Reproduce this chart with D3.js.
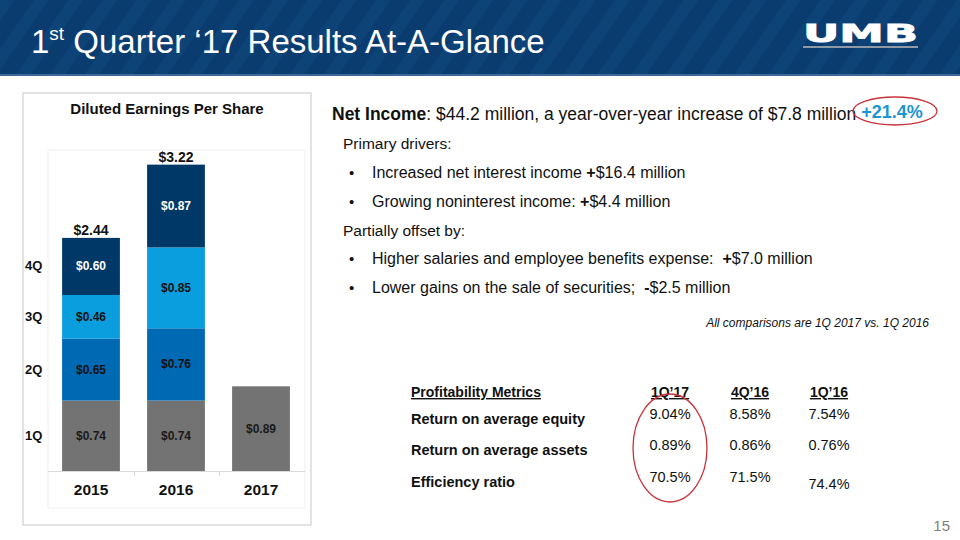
<!DOCTYPE html>
<html><head><meta charset="utf-8">
<script src="https://cdn.jsdelivr.net/npm/d3@7"></script>
<style>body{margin:0;background:#fff}svg{display:block;font-family:Arial,"Liberation Sans",sans-serif}</style>
</head><body>
<svg id="c" width="960" height="540"></svg>
<script>
const years = ["2015","2016","2017"];
const quarters = ["1Q","2Q","3Q","4Q"];
const q1 = [0.74, 0.74, 0.89];
const q2 = [0.65, 0.76, null];
const q3 = [0.46, 0.85, null];
const q4 = [0.60, 0.87, null];
const totals = ["$2.44","$3.22",null];
const qColors = ["#737373","#0069b4","#0a9ede","#003867"];
const qLabelColors = ["#1a1a1a","#111","#111","#fff"];
const drivers = [
  {type:"head", text:"Primary drivers:"},
  {type:"bullet", parts:[["Increased net interest income ",false],["+",true],["$16.4 million",false]]},
  {type:"bullet", parts:[["Growing noninterest income: ",false],["+",true],["$4.4 million",false]]},
  {type:"head", text:"Partially offset by:"},
  {type:"bullet", parts:[["Higher salaries and employee benefits expense:\u00a0\u00a0",false],["+",true],["$7.0 million",false]]},
  {type:"bullet", parts:[["Lower gains on the sale of securities;\u00a0\u00a0",false],["-",true],["$2.5 million",false]]}
];
const metricCols = ["1Q\u201917","4Q\u201916","1Q\u201916"];
const metricRows = ["Return on average equity","Return on average assets","Efficiency ratio"];
const metricVals = [["9.04%","8.58%","7.54%"],["0.89%","0.86%","0.76%"],["70.5%","71.5%","74.4%"]];

const svg = d3.select("#c");
const defs = svg.append("defs");
const pat = defs.append("pattern").attr("id","stripes").attr("patternUnits","userSpaceOnUse")
  .attr("width",28).attr("height",28).attr("patternTransform","rotate(35)");
pat.append("rect").attr("width",28).attr("height",28).attr("fill","#0b3c6f");
pat.append("rect").attr("width",12).attr("height",28).attr("fill","#0e4378");

// header
svg.append("rect").attr("x",0).attr("y",0).attr("width",960).attr("height",75).attr("fill","url(#stripes)");
svg.append("rect").attr("x",0).attr("y",74).attr("width",960).attr("height",2).attr("fill","#3d6a95");
const title = svg.append("text").attr("x",31).attr("y",53).attr("fill","#fff").attr("font-size",33);
title.append("tspan").text("1");
title.append("tspan").attr("font-size",19).attr("dy",-13).text("st");
title.append("tspan").attr("dy",13).text(" Quarter \u201817 Results At-A-Glance");
svg.append("text").attr("x",803).attr("y",42).attr("fill","#fff")
  .attr("font-size",25).attr("font-weight",900).attr("font-family","'DejaVu Sans',Arial")
  .attr("textLength",115).attr("lengthAdjust","spacingAndGlyphs").attr("stroke","#fff").attr("stroke-width",0.8).text("UMB");
svg.append("rect").attr("x",803).attr("y",46).attr("width",115).attr("height",2).attr("fill","#8f9aa6");

// chart panel
svg.append("rect").attr("x",23).attr("y",93).attr("width",288).attr("height",432).attr("fill","#fff").attr("stroke","#c8c8c8").attr("stroke-width",1);
svg.append("rect").attr("x",48).attr("y",150).attr("width",257).attr("height",358).attr("fill","none").attr("stroke","#efefef");
svg.append("text").attr("x",167).attr("y",114).attr("text-anchor","middle").attr("font-size",15).attr("font-weight","bold").attr("fill","#111").text("Diluted Earnings Per Share");

const x = d3.scaleBand().domain(years).range([48.5,303.5]).paddingInner(0.32).paddingOuter(0.16);
const y = d3.scaleLinear().domain([0,3.5]).range([471,138]);
const stackData = years.map((yr,i)=>({year:yr,"1Q":q1[i]||0,"2Q":q2[i]||0,"3Q":q3[i]||0,"4Q":q4[i]||0}));
const stack = d3.stack().keys(quarters)(stackData);
const g = svg.append("g");
stack.forEach((layer,li)=>{
  layer.forEach(d=>{
    const v = d[1]-d[0];
    if(!v) return;
    g.append("rect").attr("x",x(d.data.year)).attr("width",x.bandwidth())
      .attr("y",y(d[1])).attr("height",y(d[0])-y(d[1])).attr("fill",qColors[li]);
    g.append("text").attr("x",x(d.data.year)+x.bandwidth()/2).attr("y",(y(d[0])+y(d[1]))/2+4)
      .attr("text-anchor","middle").attr("font-size",12).attr("font-weight","bold")
      .attr("fill",qLabelColors[li]).text("$"+v.toFixed(2));
  });
});
// totals
years.forEach((yr,i)=>{
  if(!totals[i]) return;
  const top = stack[3][i][1];
  svg.append("text").attr("x",x(yr)+x.bandwidth()/2).attr("y",y(top)-3).attr("text-anchor","middle")
    .attr("font-size",14).attr("font-weight","bold").attr("fill","#111").text(totals[i]);
});
// quarter legend labels aligned to first bar
quarters.forEach((q,li)=>{
  const d = stack[li][0];
  svg.append("text").attr("x",25).attr("y",(y(d[0])+y(d[1]))/2+4).attr("font-size",13).attr("font-weight","bold").attr("fill","#111").text(q);
});
// axis
const xAxis = d3.axisBottom(x).tickSize(0).tickPadding(13);
const ax = svg.append("g").attr("transform","translate(0,471)").call(xAxis);
ax.select(".domain").attr("stroke","#d9d9d9").attr("d","M48,0.5H305");
ax.selectAll("text").attr("font-size",15.5).attr("font-weight","bold").attr("fill","#111").attr("font-family","Arial,'Liberation Sans',sans-serif");
const bounds = [x(years[1])-x.step()*x.paddingInner()/2, x(years[2])-x.step()*x.paddingInner()/2];
bounds.forEach(b=>ax.append("line").attr("x1",Math.round(b)+0.5).attr("x2",Math.round(b)+0.5).attr("y1",0).attr("y2",5).attr("stroke","#d9d9d9"));

// right text
const ni = svg.append("text").attr("x",332).attr("y",120).attr("font-size",17.5).attr("fill","#111");
ni.append("tspan").attr("font-weight","bold").text("Net Income");
ni.append("tspan").text(": $44.2 million, a year-over-year increase of $7.8 million ");
ni.append("tspan").attr("font-weight","bold").attr("fill","#1b96d3").attr("font-size",18).attr("dy",-2).text("+21.4%");
svg.append("ellipse").attr("cx",895).attr("cy",111).attr("rx",42).attr("ry",14).attr("fill","none").attr("stroke","#c8323a").attr("stroke-width",1.3);

const lineY = [149,178,207,236,264,293];
drivers.forEach((d,i)=>{
  if(d.type==="head"){
    svg.append("text").attr("x",343).attr("y",lineY[i]).attr("font-size",15.5).attr("fill","#111").text(d.text);
  } else {
    svg.append("text").attr("x",349).attr("y",lineY[i]).attr("font-size",15).attr("fill","#111").text("\u2022");
    const t = svg.append("text").attr("x",372).attr("y",lineY[i]).attr("font-size",16).attr("fill","#111");
    d.parts.forEach(p=>t.append("tspan").attr("font-weight",p[1]?"bold":"normal").text(p[0]));
  }
});
svg.append("text").attr("x",929).attr("y",327).attr("text-anchor","end").attr("font-size",12).attr("font-style","italic").attr("fill","#111").text("All comparisons are 1Q 2017 vs. 1Q 2016");

// metrics table
const colX = [670,750,829];
const rowY = [424,455,487];
const valY = [419,450,482];
svg.append("text").attr("x",411).attr("y",397).attr("font-size",14).attr("font-weight","bold").attr("fill","#111").attr("text-decoration","underline").text("Profitability Metrics");
metricCols.forEach((c,i)=>svg.append("text").attr("x",colX[i]).attr("y",397).attr("text-anchor","middle").attr("font-size",14).attr("font-weight","bold").attr("fill","#111").attr("text-decoration","underline").text(c));
metricRows.forEach((r,ri)=>{
  svg.append("text").attr("x",411).attr("y",rowY[ri]).attr("font-size",14.5).attr("font-weight","bold").attr("fill","#111").text(r);
  metricVals[ri].forEach((v,ci)=>svg.append("text").attr("x",colX[ci]).attr("y",ci===2&&ri===2?rowY[ri]+2:valY[ri]).attr("text-anchor","middle").attr("font-size",14.5).attr("fill","#111").text(v));
});
svg.append("ellipse").attr("cx",670).attr("cy",448).attr("rx",37).attr("ry",54).attr("fill","none").attr("stroke","#c8323a").attr("stroke-width",1.3);

svg.append("text").attr("x",950).attr("y",531).attr("text-anchor","end").attr("font-size",15).attr("fill","#7f7f7f").text("15");
</script>
</body></html>
